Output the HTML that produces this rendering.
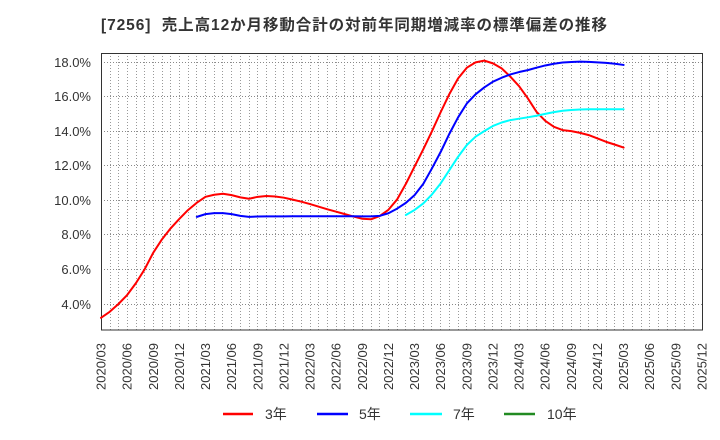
<!DOCTYPE html>
<html><head><meta charset="utf-8"><style>
html,body{margin:0;padding:0;background:#fff;}
svg{display:block;}
</style></head><body>
<svg width="720" height="440" viewBox="0 0 720 440" xmlns="http://www.w3.org/2000/svg" font-family="'Liberation Sans','Noto Sans CJK JP',sans-serif">
<rect width="720" height="440" fill="#fff"/>
<text x="101" y="30" font-size="15.5" font-weight="bold" fill="#333" textLength="506" lengthAdjust="spacing">[7256]&#160;&#160;売上高12か月移動合計の対前年同期増減率の標準偏差の推移</text>

<!-- vertical grid -->
<path stroke="#999" stroke-width="1" stroke-dasharray="1,2" fill="none" d="
M110.5 53V330 M118.5 53V330 M127.5 53V330 M136.5 53V330 M144.5 53V330 M153.5 53V330 M162.5 53V330 M170.5 53V330 M179.5 53V330 M188.5 53V330
M196.5 53V330 M205.5 53V330 M214.5 53V330 M222.5 53V330 M231.5 53V330 M240.5 53V330 M249.5 53V330 M257.5 53V330 M266.5 53V330 M275.5 53V330
M283.5 53V330 M292.5 53V330 M301.5 53V330 M310.5 53V330 M318.5 53V330 M327.5 53V330 M336.5 53V330 M344.5 53V330 M353.5 53V330 M362.5 53V330
M371.5 53V330 M379.5 53V330 M388.5 53V330 M397.5 53V330 M405.5 53V330 M414.5 53V330 M423.5 53V330 M431.5 53V330 M440.5 53V330 M449.5 53V330
M458.5 53V330 M466.5 53V330 M475.5 53V330 M484.5 53V330 M492.5 53V330 M501.5 53V330 M510.5 53V330 M519.5 53V330 M527.5 53V330 M536.5 53V330
M545.5 53V330 M553.5 53V330 M562.5 53V330 M571.5 53V330 M580.5 53V330 M588.5 53V330 M597.5 53V330 M606.5 53V330 M614.5 53V330 M623.5 53V330
M632.5 53V330 M641.5 53V330 M649.5 53V330 M658.5 53V330 M667.5 53V330 M675.5 53V330 M684.5 53V330 M693.5 53V330"/>
<!-- horizontal grid -->
<path stroke="#888" stroke-width="1" stroke-dasharray="1,2" fill="none" d="
M101 62.5H702 M101 96.5H702 M101 131.5H702 M101 165.5H702 M101 200.5H702 M101 234.5H702 M101 269.5H702 M101 304.5H702"/>
<!-- frame -->
<rect x="101.5" y="53.5" width="601" height="276.5" fill="none" stroke="#333" stroke-width="1"/>

<!-- y labels -->
<g font-size="13" fill="#333" text-anchor="end">
<text x="91" y="67">18.0%</text>
<text x="91" y="101">16.0%</text>
<text x="91" y="136">14.0%</text>
<text x="91" y="170">12.0%</text>
<text x="91" y="205">10.0%</text>
<text x="91" y="239">8.0%</text>
<text x="91" y="274">6.0%</text>
<text x="91" y="309">4.0%</text>
</g>

<!-- x labels -->
<g font-size="13" fill="#333" text-anchor="end">
<text transform="translate(105.5,343) rotate(-90)">2020/03</text>
<text transform="translate(131.6,343) rotate(-90)">2020/06</text>
<text transform="translate(157.8,343) rotate(-90)">2020/09</text>
<text transform="translate(183.9,343) rotate(-90)">2020/12</text>
<text transform="translate(210.0,343) rotate(-90)">2021/03</text>
<text transform="translate(236.2,343) rotate(-90)">2021/06</text>
<text transform="translate(262.3,343) rotate(-90)">2021/09</text>
<text transform="translate(288.4,343) rotate(-90)">2021/12</text>
<text transform="translate(314.5,343) rotate(-90)">2022/03</text>
<text transform="translate(340.7,343) rotate(-90)">2022/06</text>
<text transform="translate(366.8,343) rotate(-90)">2022/09</text>
<text transform="translate(392.9,343) rotate(-90)">2022/12</text>
<text transform="translate(419.1,343) rotate(-90)">2023/03</text>
<text transform="translate(445.2,343) rotate(-90)">2023/06</text>
<text transform="translate(471.3,343) rotate(-90)">2023/09</text>
<text transform="translate(497.5,343) rotate(-90)">2023/12</text>
<text transform="translate(523.6,343) rotate(-90)">2024/03</text>
<text transform="translate(549.7,343) rotate(-90)">2024/06</text>
<text transform="translate(575.9,343) rotate(-90)">2024/09</text>
<text transform="translate(602.0,343) rotate(-90)">2024/12</text>
<text transform="translate(628.1,343) rotate(-90)">2025/03</text>
<text transform="translate(654.2,343) rotate(-90)">2025/06</text>
<text transform="translate(680.4,343) rotate(-90)">2025/09</text>
<text transform="translate(706.5,343) rotate(-90)">2025/12</text>
</g>

<!-- series -->
<g transform="translate(101,373.143) scale(8.7101,-17.2857)" fill="none" stroke-width="2" stroke-linejoin="round" stroke-linecap="round">
<polyline vector-effect="non-scaling-stroke" stroke="#ff0000" points="0,3.2 1,3.55 2,4.0 3,4.52 4,5.2 5,6.0 6,6.97 7,7.74 8,8.38 9,8.93 10,9.44 11,9.86 12,10.2 13,10.32 14,10.38 15,10.3 16,10.17 17,10.09 18,10.2 19,10.25 20,10.22 21,10.15 22,10.04 23,9.92 24,9.78 25,9.63 26,9.48 27,9.34 28,9.2 29,9.06 30,8.93 31,8.9 32,9.09 33,9.45 34,10.05 35,10.95 36,11.95 37,12.95 38,14.0 39,15.1 40,16.15 41,17.05 42,17.67 43,17.98 44,18.08 45,17.92 46,17.63 47,17.15 48,16.6 49,15.9 50,15.12 51,14.6 52,14.25 53,14.06 54,14.0 55,13.9 56,13.77 57,13.58 58,13.38 59,13.22 60,13.05"/>
<polyline vector-effect="non-scaling-stroke" stroke="#0000ff" points="11,9.04 12,9.2 13,9.26 14,9.26 15,9.2 16,9.1 17,9.04 18,9.06 19,9.07 20,9.07 21,9.07 22,9.08 23,9.08 24,9.08 25,9.08 26,9.08 27,9.08 28,9.08 29,9.08 30,9.07 31,9.07 32,9.1 33,9.25 34,9.52 35,9.85 36,10.3 37,10.95 38,11.85 39,12.8 40,13.85 41,14.8 42,15.6 43,16.13 44,16.53 45,16.86 46,17.09 47,17.28 48,17.42 49,17.53 50,17.67 51,17.8 52,17.9 53,17.97 54,18.0 55,18.02 56,18.01 57,17.98 58,17.95 59,17.9 60,17.83"/>
<polyline vector-effect="non-scaling-stroke" stroke="#00ffff" points="35,9.15 36,9.44 37,9.82 38,10.34 39,10.98 40,11.75 41,12.52 42,13.2 43,13.68 44,14.0 45,14.3 46,14.5 47,14.64 48,14.72 49,14.8 50,14.89 51,15.0 52,15.1 53,15.18 54,15.22 55,15.25 56,15.27 57,15.27 58,15.27 59,15.27 60,15.27"/>
</g>

<!-- legend -->
<g stroke-width="2.5">
<line x1="223" y1="414" x2="253" y2="414" stroke="#ff0000"/>
<line x1="317" y1="414" x2="348" y2="414" stroke="#0000ff"/>
<line x1="410" y1="414" x2="442" y2="414" stroke="#00ffff"/>
<line x1="504" y1="414" x2="535" y2="414" stroke="#228b22"/>
</g>
<g font-size="14" fill="#333">
<text x="265" y="419">3年</text>
<text x="359" y="419">5年</text>
<text x="453" y="419">7年</text>
<text x="547" y="419">10年</text>
</g>
</svg>
</body></html>
